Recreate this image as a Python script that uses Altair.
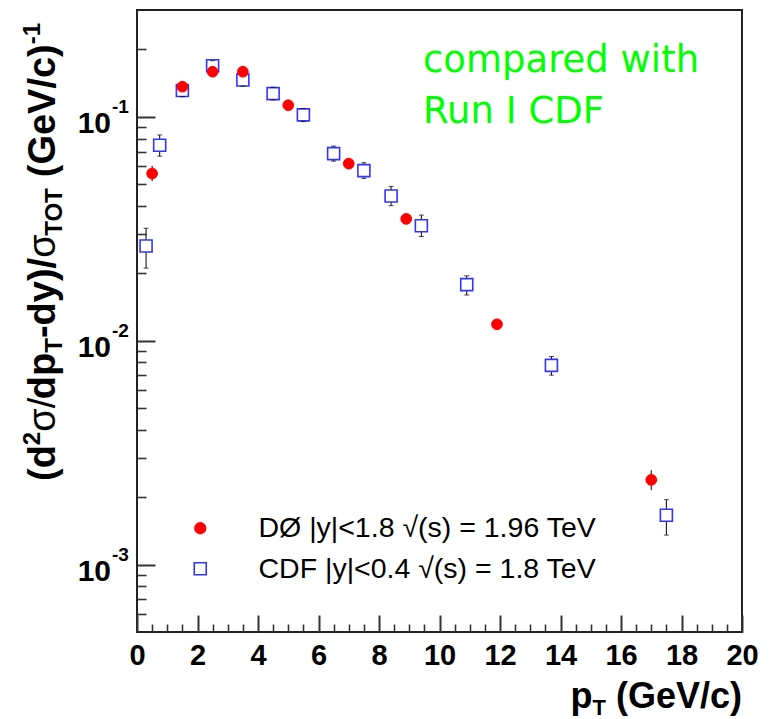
import altair as alt
import pandas as pd

# ---------------- data ----------------
d0_name = "DØ |y|<1.8 √(s) = 1.96 TeV"
cdf_name = "CDF |y|<0.4 √(s) = 1.8 TeV"

d0_pt = [0.5, 1.5, 2.5, 3.5, 5.0, 7.0, 8.9, 11.9, 17.0]
d0_val = [0.0558, 0.1364, 0.159, 0.159, 0.1127, 0.0618, 0.035, 0.01184, 0.00239]
d0_lo = [0.0516, 0.131, 0.153, 0.153, 0.108, 0.0594, 0.0336, 0.01137, 0.00215]
d0_hi = [0.0604, 0.142, 0.165, 0.165, 0.117, 0.0643, 0.0364, 0.01231, 0.00264]

cdf_pt = [0.3, 0.75, 1.5, 2.5, 3.5, 4.5, 5.5, 6.5, 7.5, 8.4, 9.4, 10.9, 13.7, 17.5]
cdf_val = [0.0265, 0.0746, 0.131, 0.169, 0.146, 0.127, 0.102, 0.0685, 0.0575,
           0.0443, 0.0326, 0.0178, 0.00776, 0.00166]
cdf_lo = [0.0211, 0.0667, 0.123, 0.161, 0.137, 0.119, 0.0952, 0.0634, 0.053,
          0.0401, 0.0292, 0.016, 0.00702, 0.001355]
cdf_hi = [0.0318, 0.083, 0.139, 0.178, 0.156, 0.1355, 0.109, 0.074, 0.0624,
          0.0489, 0.0364, 0.0195, 0.0085, 0.00195]

x_major_ticks = [0, 2, 4, 6, 8, 10, 12, 14, 16, 18, 20]
x_minor_ticks = [v / 2 for v in range(0, 41) if v % 4 != 0]
y_major_ticks = [0.001, 0.01, 0.1]
y_minor_ticks = [m * 10 ** e for e in (-4, -3, -2, -1) for m in range(2, 10)
                 if 5e-4 < m * 10 ** e < 0.3]
y_tick_base = ["10", "10", "10"]
y_tick_exp = ["-3", "-2", "-1"]
note_text = "compared with\nRun I CDF"

# ---------------- tables ----------------
d0 = pd.DataFrame({"pt": d0_pt, "val": d0_val, "lo": d0_lo, "hi": d0_hi, "series": d0_name})
cdf = pd.DataFrame({"pt": cdf_pt, "val": cdf_val, "lo": cdf_lo, "hi": cdf_hi, "series": cdf_name})
ytl = pd.DataFrame({"v": y_major_ticks, "base": y_tick_base, "exp": y_tick_exp})

W, H = 605, 622
FONT = "Liberation Sans"
TICK = "#333333"
RED = "#ff0000"
BLUE = "#3333ff"

xs = alt.Scale(domain=[0, 20], nice=False, zero=False)
ys = alt.Scale(type="log", domain=[5e-4, 0.3], nice=False)

x_major = alt.Axis(orient="bottom", values=x_major_ticks, tickSize=17, offset=-17, domain=False,
                   grid=False, title=None, format="d", labelFont=FONT, labelFontSize=29,
                   labelFontWeight="bold", labelColor="black", labelPadding=9,
                   labelFlush=False, labelOverlap=False, tickColor=TICK, tickWidth=2)
x_minor = alt.Axis(orient="bottom", values=x_minor_ticks, tickSize=8, offset=-8, domain=False,
                   grid=False, title=None, labels=False, tickColor=TICK, tickWidth=1.6)
y_major = alt.Axis(orient="left", values=y_major_ticks, tickSize=18, offset=-18, domain=False,
                   grid=False, title=None, labels=False, tickColor=TICK, tickWidth=2)
y_minor = alt.Axis(orient="left", values=y_minor_ticks, tickSize=9, offset=-9, domain=False,
                   grid=False, title=None, labels=False, tickColor=TICK, tickWidth=1.6)

leg = alt.Legend(orient="none", legendX=49, legendY=504, title=None, labelFont=FONT,
                 labelFontSize=28.5, labelColor="black", labelOffset=44, labelLimit=0,
                 rowPadding=11.5, padding=0, symbolStrokeWidth=1.6)
dom = [d0_name, cdf_name]
shape = alt.Shape("series:N", scale=alt.Scale(domain=dom, range=["circle", "square"]), legend=leg)
fill = alt.Fill("series:N", scale=alt.Scale(domain=dom, range=[RED, "#ffffff"]), legend=leg)
stroke = alt.Stroke("series:N", scale=alt.Scale(domain=dom, range=[RED, BLUE]), legend=leg)
size = alt.Size("series:N", scale=alt.Scale(domain=dom, range=[115, 144]), legend=leg)

# ---------------- data layers ----------------
cdf_err = alt.Chart(cdf).mark_rule(color="black", strokeWidth=1).encode(
    x=alt.X("pt:Q", scale=xs, axis=x_major),
    y=alt.Y("lo:Q", scale=ys, axis=y_major),
    y2="hi:Q")
d0_err = alt.Chart(d0).mark_rule(color="black", strokeWidth=1).encode(
    x=alt.X("pt:Q", scale=xs, axis=x_minor),
    y=alt.Y("lo:Q", scale=ys, axis=y_minor),
    y2="hi:Q")


def caps(df, field):
    return alt.Chart(df).mark_tick(orient="horizontal", size=5, thickness=1, color="black").encode(
        x=alt.X("pt:Q", scale=xs, axis=None),
        y=alt.Y(f"{field}:Q", scale=ys, axis=None))


cdf_pts = alt.Chart(cdf).mark_point(filled=True, strokeWidth=1.6, opacity=1).encode(
    x=alt.X("pt:Q", scale=xs, axis=None),
    y=alt.Y("val:Q", scale=ys, axis=None),
    shape=shape, fill=fill, stroke=stroke, size=size)
d0_pts = alt.Chart(d0).mark_point(filled=True, strokeWidth=1, opacity=1).encode(
    x=alt.X("pt:Q", scale=xs, axis=None),
    y=alt.Y("val:Q", scale=ys, axis=None),
    shape=shape, fill=fill, stroke=stroke, size=size)

# ---------------- y tick labels 10^n ----------------
ytl_base = alt.Chart(ytl).mark_text(align="right", baseline="middle", font=FONT, fontSize=30,
                                    fontWeight="bold", color="black", dy=7).encode(
    y=alt.Y("v:Q", scale=ys, axis=None), x=alt.value(-26), text="base:N")
ytl_exp = alt.Chart(ytl).mark_text(align="left", baseline="middle", font=FONT, fontSize=19,
                                   fontWeight="bold", color="black", dy=-10).encode(
    y=alt.Y("v:Q", scale=ys, axis=None), x=alt.value(-25), text="exp:N")

# ---------------- titles with sub/superscripts ----------------
BOLD_W = {"(": .333, ")": .333, "d": .611, "2": .556, "/": .278, "p": .611, "T": .611,
          "-": .333, "y": .556, "O": .778, " ": .278, "G": .778, "e": .556, "V": .667,
          "c": .556, "1": .556}
REG_W = {"σ": .58, "/": .278}


def tw(s, sz, bold):
    tab = BOLD_W if bold else REG_W
    return sum(tab.get(ch, .556) for ch in s) * sz


one = pd.DataFrame({"k": [0]})


def seg(txt, x, y, sz, bold, align="left", angle=0):
    return alt.Chart(one).mark_text(text=txt, align=align, baseline="alphabetic", angle=angle,
                                    font=FONT, fontSize=sz, color="black",
                                    fontWeight="bold" if bold else "normal").encode(
        x=alt.value(x), y=alt.value(y))


S, s = 38, 24
SP = 0.278 * S
# text, size, bold, baseline shift, gap before
ysegs = [("(d", S, True, 0, 0), ("2", s, True, -15, 0), ("σ/", S, False, 0, 0),
         ("dp", S, True, 0, 0), ("T", s, True, 7, 0), ("-dy)/", S, True, 0, 0),
         ("σ", S, False, 0, 0), ("TOT", s, True, 7, 0), ("(GeV/c)", S, True, 0, SP),
         ("-1", s, True, -15, 0)]
ypos = 471
bx = -82
ytitle = []
for t, z, b, sh, gap in ysegs:
    ypos -= gap
    ytitle.append(seg(t, bx + sh, ypos, z, b, angle=270))
    ypos -= tw(t, z, b)

XS, xs_ = 36, 22
xb = 698
w_gev = tw("(GeV/c)", XS, True) + 0.278 * XS
w_t = tw("T", xs_, True)
xtitle = [seg("(GeV/c)", W, xb, XS, True, align="right"),
          seg("T", W - w_gev, xb + 7, xs_, True, align="right"),
          seg("p", W - w_gev - w_t, xb, XS, True, align="right")]

note = alt.Chart(pd.DataFrame({"t": [note_text]})).mark_text(
    align="left", baseline="alphabetic", lineBreak="\n", lineHeight=51.5,
    font="DejaVu Sans", fontSize=37, color="#00ff00").encode(
    x=alt.value(286), y=alt.value(61.7), text="t:N")

chart = alt.layer(
    cdf_err, d0_err, cdf_pts, caps(cdf, "lo"), caps(cdf, "hi"), d0_pts,
    ytl_base, ytl_exp, note, *ytitle, *xtitle
).resolve_axis(x="independent", y="independent").properties(
    width=W, height=H,
    autosize=alt.AutoSizeParams(type="none"),
    padding={"left": 129, "top": 2, "right": 25, "bottom": 90},
    background="white",
).configure_view(stroke="#222222", strokeWidth=2)

chart.save("out.html", embed_options={"renderer": "svg", "actions": False})
